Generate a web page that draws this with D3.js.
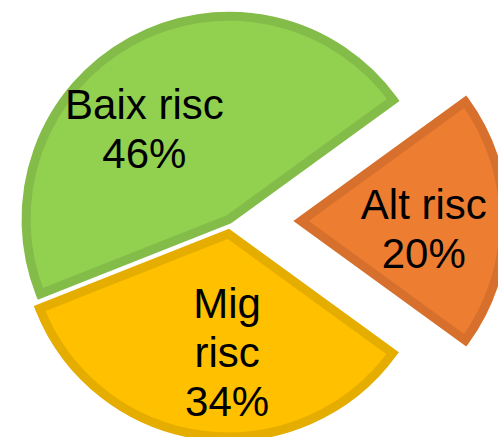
<!DOCTYPE html>
<html>
<head>
<meta charset="utf-8">
<script src="https://cdn.jsdelivr.net/npm/d3@7"></script>
<style>
  html, body { margin: 0; padding: 0; background: #fff; }
  svg { display: block; }
</style>
</head>
<body>
<svg id="chart"></svg>
<script>
// data, clockwise from the top-right edge of "Alt risc"
const categories = ["Alt risc", "Mig risc", "Baix risc"];
const values = [20, 34, 46];
const labelLines = [["Alt risc"], ["Mig", "risc"], ["Baix risc"]];

const fills = ["#ED7D31", "#FFC000", "#92D050"];
const borders = ["#D6702C", "#E5AD00", "#83BC49"];
// how far each slice is pulled out, px
const explode = [71, 13, 2];
// small label nudges, px
const labelNudge = [[1, 8], [14, -2], [-26, 16]];

const width = 498;
const height = 437;
const cx = 230;
const cy = 221;
const radius = 203;
const fontSize = 42;
const lineHeight = 49;

const svg = d3.select("#chart").attr("width", width).attr("height", height);

const pie = d3
  .pie()
  .sort(null)
  .value((d) => d)
  .startAngle(0.3 * Math.PI)
  .endAngle(2.3 * Math.PI);

const arcs = pie(values);
const arc = d3.arc().innerRadius(0).outerRadius(radius);

const total = d3.sum(values);

const slices = svg
  .selectAll("g.slice")
  .data(arcs)
  .enter()
  .append("g")
  .attr("class", "slice")
  .attr("transform", (d, i) => {
    const mid = (d.startAngle + d.endAngle) / 2;
    const x = cx + Math.sin(mid) * explode[i];
    const y = cy - Math.cos(mid) * explode[i];
    return `translate(${x}, ${y})`;
  });

slices
  .append("path")
  .attr("d", arc)
  .attr("fill", (d, i) => fills[i])
  .attr("stroke", (d, i) => borders[i])
  .attr("stroke-width", 9)
  .attr("stroke-linejoin", "miter");

slices
  .append("text")
  .attr("font-family", "'Liberation Sans', Arial, sans-serif")
  .attr("font-size", fontSize)
  .attr("fill", "#000")
  .attr("text-anchor", "middle")
  .each(function (d, i) {
    const mid = (d.startAngle + d.endAngle) / 2;
    const r = radius * 0.6;
    const x = Math.sin(mid) * r + labelNudge[i][0];
    const y = -Math.cos(mid) * r + labelNudge[i][1];
    const lines = labelLines[i].concat([
      `${Math.round((values[i] / total) * 100)}%`,
    ]);
    const first = y - ((lines.length - 1) * lineHeight) / 2 + fontSize * 0.35;
    d3.select(this)
      .selectAll("tspan")
      .data(lines)
      .enter()
      .append("tspan")
      .attr("x", x)
      .attr("y", (t, j) => first + j * lineHeight)
      .text((t) => t);
  });
</script>
</body>
</html>
